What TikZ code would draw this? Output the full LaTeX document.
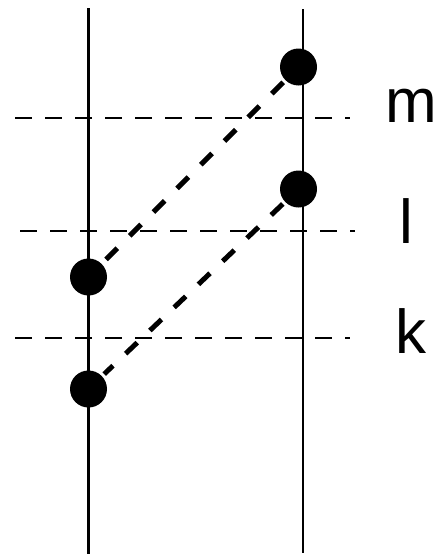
\documentclass[tikz,border=0pt]{standalone}
\usepackage{fontspec}
\setmainfont{Liberation Sans}
\begin{document}
\begin{tikzpicture}[x=1pt,y=-1pt,
  dot/.style={circle,fill=black,inner sep=0pt,minimum size=37pt},
  axis/.style={line width=2.2pt},
  level/.style={line width=2pt,dash pattern=on 17pt off 13pt},
  link/.style={line width=5pt,dash pattern=on 16pt off 17.5pt,shorten <=3pt,shorten >=3pt},
  lab/.style={anchor=base,font=\fontsize{62}{62}\selectfont,inner sep=0pt}]
\useasboundingbox (0,0) rectangle (440,554);
% vertical lines
\coordinate (LT) at (88.5,8);
\coordinate (LB) at (88.5,554);
\coordinate (RT) at (303,9);
\coordinate (RB) at (303,553);
\draw[axis] (LT) -- (LB);
\draw[axis] (RT) -- (RB);
% horizontal dashed levels
\coordinate (m1) at (15,118);
\coordinate (m2) at (350,118);
\coordinate (l1) at (20,231);
\coordinate (l2) at (355,231);
\coordinate (k1) at (15,338);
\coordinate (k2) at (350,338);
\draw[level] (m1) -- (m2);
\draw[level] (l1) -- (l2);
\draw[level] (k1) -- (k2);
% dots
\node[dot] (R1) at (298.5,67) {};
\node[dot] (R2) at (298.5,189) {};
\node[dot] (L1) at (88.5,277) {};
\node[dot] (L2) at (88.5,389) {};
% diagonal links
\draw[link] (R1) -- (L1);
\draw[link] (R2) -- (L2);
% labels
\node[lab] (tm) at (411,122) {m};
\node[lab] (tl) at (406,243) {l};
\node[lab] (tk) at (411,353) {k};
\end{tikzpicture}
\end{document}
